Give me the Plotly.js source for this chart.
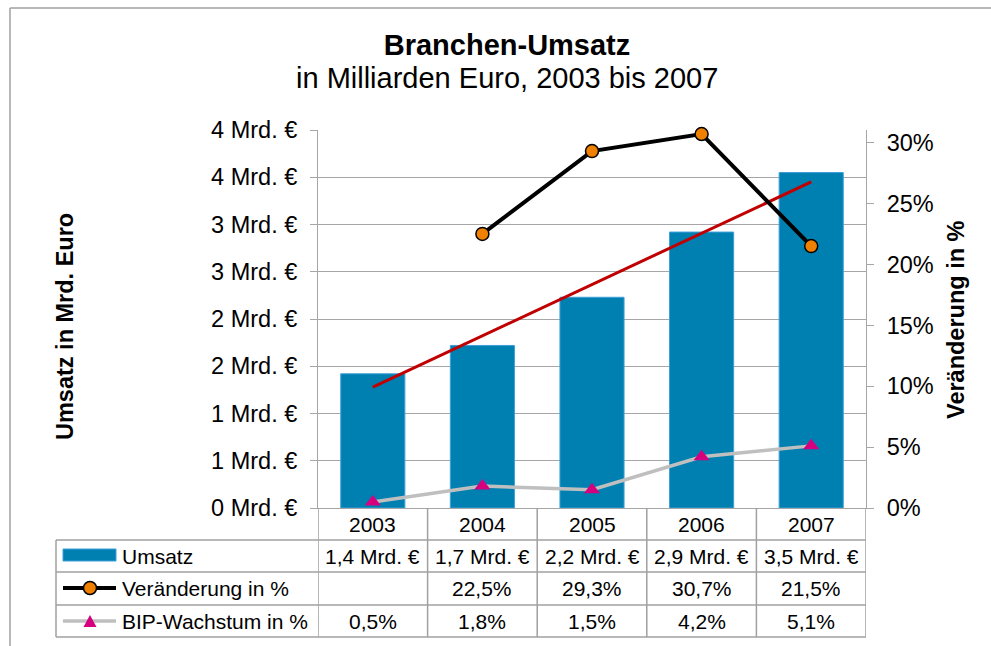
<!DOCTYPE html>
<html>
<head>
<meta charset="utf-8">
<script src="https://cdn.plot.ly/plotly-3.0.1.min.js"></script>
<style>
  html, body { margin: 0; padding: 0; background: #ffffff; }
  #chart { width: 991px; height: 646px; }
</style>
</head>
<body>
<div id="chart"></div>
<script>
// ---- data ----
const years = ['2003', '2004', '2005', '2006', '2007'];
const umsatz = [1.42, 1.72, 2.23, 2.92, 3.55];            // Mrd. Euro
const veraenderung = [null, 0.225, 0.293, 0.307, 0.215];  // share
const bip = [0.005, 0.018, 0.015, 0.042, 0.051];          // share
const trendYears = ['2003', '2007'];
const trendValues = [1.28, 3.45];                          // linear trend of Umsatz
const seriesNames = ['Umsatz', 'Veränderung in %', 'BIP-Wachstum in %'];
const leftTickVals = [0, 0.5, 1, 1.5, 2, 2.5, 3, 3.5, 4];
const leftTickText = ['0 Mrd. €', '1 Mrd. €', '1 Mrd. €', '2 Mrd. €', '2 Mrd. €', '3 Mrd. €', '3 Mrd. €', '4 Mrd. €', '4 Mrd. €'];
const rightTickVals = [0, 0.05, 0.10, 0.15, 0.20, 0.25, 0.30];
const rightTickText = ['0%', '5%', '10%', '15%', '20%', '25%', '30%'];
const titleText = 'Branchen-Umsatz';
const subtitleText = 'in Milliarden Euro, 2003 bis 2007';
const leftAxisTitle = 'Umsatz in Mrd. Euro';
const rightAxisTitle = 'Veränderung in %';

// ---- styling ----
const FONT = 'Liberation Sans, Arial, sans-serif';
const BAR = '#0080B0';
const BAR_EDGE = '#3F9FDB';
const ORANGE = '#F08000';
const MAGENTA = '#D6007F';
const RED = '#C00000';
const LGRAY = '#BFBFBF';
const GRID = '#A6A6A6';
const BORDER = '#A0A0A0';

const de1 = v => v.toFixed(1).replace('.', ',');
const pct = v => (v * 100).toFixed(1).replace('.', ',') + '%';

const traces = [
  {
    type: 'bar', x: years, y: umsatz, name: seriesNames[0], width: 0.585,
    marker: { color: BAR, line: { color: BAR_EDGE, width: 1 } },
    yaxis: 'y', hoverinfo: 'skip'
  },
  {
    type: 'scatter', mode: 'lines+markers', x: years, y: bip, name: seriesNames[2],
    cliponaxis: false,
    line: { color: LGRAY, width: 3.5 },
    marker: { symbol: 'triangle-up', color: MAGENTA, size: 14, line: { width: 0 } },
    yaxis: 'y2', hoverinfo: 'skip'
  },
  {
    type: 'scatter', mode: 'lines+markers', x: years, y: veraenderung, name: seriesNames[1],
    connectgaps: false, cliponaxis: false,
    line: { color: '#000000', width: 4 },
    marker: { symbol: 'circle', color: ORANGE, size: 13, line: { color: '#000000', width: 1.5 } },
    yaxis: 'y2', hoverinfo: 'skip'
  },
  {
    type: 'scatter', mode: 'lines', x: trendYears, y: trendValues, name: 'Trend',
    line: { color: RED, width: 3 },
    yaxis: 'y', hoverinfo: 'skip'
  }
];

// ---- geometry helpers (plot area: x 318..866, y 130..508) ----
const PL = 318, PR = 866, PT = 130, PB = 508;
const PW = PR - PL, PH = PB - PT;
const px = X => (X - PL) / PW;
const py = Y => (PB - Y) / PH;

const rowLines = [540, 572, 605, 637];
const rowCenters = [524, 556, 588.5, 621];
const tableLeft = 56;

const shapes = [];
// outer chart frame (left and top edges visible)
shapes.push({ type: 'line', xref: 'paper', yref: 'paper', x0: px(10), x1: px(10), y0: py(8), y1: py(660), line: { color: '#A0A0A0', width: 1.5 } });
shapes.push({ type: 'line', xref: 'paper', yref: 'paper', x0: px(10), x1: px(1000), y0: py(8), y1: py(8), line: { color: '#A0A0A0', width: 1.5 } });

// table vertical lines at category boundaries
for (let i = 0; i <= years.length; i++) {
  shapes.push({ type: 'line', xref: 'x', yref: 'paper', x0: i - 0.5, x1: i - 0.5, y0: 0, y1: py(rowLines[3]), line: { color: BORDER, width: 1.5 } });
}
// table horizontal lines
rowLines.forEach(Y => {
  shapes.push({ type: 'line', xref: 'paper', yref: 'paper', x0: px(tableLeft), x1: 1, y0: py(Y), y1: py(Y), line: { color: BORDER, width: 1.5 } });
});
// left edge of label column
shapes.push({ type: 'line', xref: 'paper', yref: 'paper', x0: px(tableLeft), x1: px(tableLeft), y0: py(rowLines[0]), y1: py(rowLines[3]), line: { color: BORDER, width: 1.5 } });

// legend keys
shapes.push({ type: 'rect', xref: 'paper', yref: 'paper', x0: px(63), x1: px(116), y0: py(549), y1: py(561), fillcolor: BAR, line: { color: BAR_EDGE, width: 1 } });
shapes.push({ type: 'line', xref: 'paper', yref: 'paper', x0: px(63), x1: px(116), y0: py(588), y1: py(588), line: { color: '#000000', width: 4 } });
shapes.push({ type: 'circle', xref: 'paper', yref: 'paper', xsizemode: 'pixel', ysizemode: 'pixel', xanchor: px(90), yanchor: py(588), x0: -6.5, x1: 6.5, y0: -6.5, y1: 6.5, fillcolor: ORANGE, line: { color: '#000000', width: 1.5 } });
shapes.push({ type: 'line', xref: 'paper', yref: 'paper', x0: px(63), x1: px(116), y0: py(621), y1: py(621), line: { color: LGRAY, width: 3.5 } });
shapes.push({ type: 'path', xref: 'paper', yref: 'paper', xsizemode: 'pixel', ysizemode: 'pixel', xanchor: px(90), yanchor: py(621), path: 'M -6.5,-6 L 6.5,-6 L 0,6 Z', fillcolor: MAGENTA, line: { width: 0 } });

const annotations = [];
const cellFont = { family: FONT, size: 21, color: '#000000' };
// subtitle
annotations.push({ xref: 'paper', yref: 'paper', x: px(507), y: py(78), text: subtitleText, showarrow: false, xanchor: 'center', yanchor: 'middle', font: { family: FONT, size: 29, color: '#000000' } });
// axis titles
annotations.push({ xref: 'paper', yref: 'paper', x: px(65), y: py(327), text: '<b>' + leftAxisTitle + '</b>', textangle: -90, showarrow: false, xanchor: 'center', yanchor: 'middle', font: { family: FONT, size: 23.5, color: '#000000' } });
annotations.push({ xref: 'paper', yref: 'paper', x: px(956), y: py(320), text: '<b>' + rightAxisTitle + '</b>', textangle: -90, showarrow: false, xanchor: 'center', yanchor: 'middle', font: { family: FONT, size: 23.5, color: '#000000' } });

// table: year header and values (x = category index on the x axis)
years.forEach((yr, i) => {
  annotations.push({ xref: 'x', yref: 'paper', x: i, y: py(rowCenters[0]), text: yr, showarrow: false, xanchor: 'center', yanchor: 'middle', font: cellFont });
  annotations.push({ xref: 'x', yref: 'paper', x: i, y: py(rowCenters[1]), text: de1(umsatz[i]) + ' Mrd. €', showarrow: false, xanchor: 'center', yanchor: 'middle', font: cellFont });
  if (veraenderung[i] !== null) {
    annotations.push({ xref: 'x', yref: 'paper', x: i, y: py(rowCenters[2]), text: pct(veraenderung[i]), showarrow: false, xanchor: 'center', yanchor: 'middle', font: cellFont });
  }
  annotations.push({ xref: 'x', yref: 'paper', x: i, y: py(rowCenters[3]), text: pct(bip[i]), showarrow: false, xanchor: 'center', yanchor: 'middle', font: cellFont });
});
// table row labels
seriesNames.forEach((nm, k) => {
  annotations.push({ xref: 'paper', yref: 'paper', x: px(120), y: py(rowCenters[k + 1]), text: nm, showarrow: false, xanchor: 'left', yanchor: 'middle', font: cellFont });
});

const layout = {
  width: 991, height: 646,
  margin: { l: PL, r: 991 - PR, t: PT, b: 646 - PB, pad: 0 },
  paper_bgcolor: '#ffffff', plot_bgcolor: '#ffffff',
  showlegend: false,
  font: { family: FONT, color: '#000000' },
  title: {
    text: '<b>' + titleText + '</b>',
    xref: 'container', yref: 'container', x: 507 / 991, y: 1 - 45 / 646,
    xanchor: 'center', yanchor: 'middle',
    font: { family: FONT, size: 29, color: '#000000' }
  },
  xaxis: {
    type: 'category', range: [-0.5, 4.5], showticklabels: false, ticks: '',
    showgrid: false, zeroline: false, showline: true, linecolor: GRID, linewidth: 1, fixedrange: true
  },
  yaxis: {
    range: [0, 4], tickvals: leftTickVals, ticktext: leftTickText,
    showgrid: true, gridcolor: GRID, gridwidth: 1, zeroline: false,
    showline: true, linecolor: GRID, linewidth: 1,
    ticks: 'outside', ticklen: 7, tickcolor: GRID, tickwidth: 1,
    tickfont: { family: FONT, size: 23.5, color: '#000000' }, ticklabelstandoff: 8, fixedrange: true
  },
  yaxis2: {
    overlaying: 'y', side: 'right', range: [0, 0.3103],
    tickvals: rightTickVals, ticktext: rightTickText,
    showgrid: false, zeroline: false, showline: true, linecolor: GRID, linewidth: 1,
    ticks: 'outside', ticklen: 7, tickcolor: GRID, tickwidth: 1,
    tickfont: { family: FONT, size: 23.5, color: '#000000' }, ticklabelstandoff: 8, fixedrange: true
  },
  shapes: shapes,
  annotations: annotations
};

Plotly.newPlot('chart', traces, layout, { displayModeBar: false, staticPlot: true });
</script>
</body>
</html>
